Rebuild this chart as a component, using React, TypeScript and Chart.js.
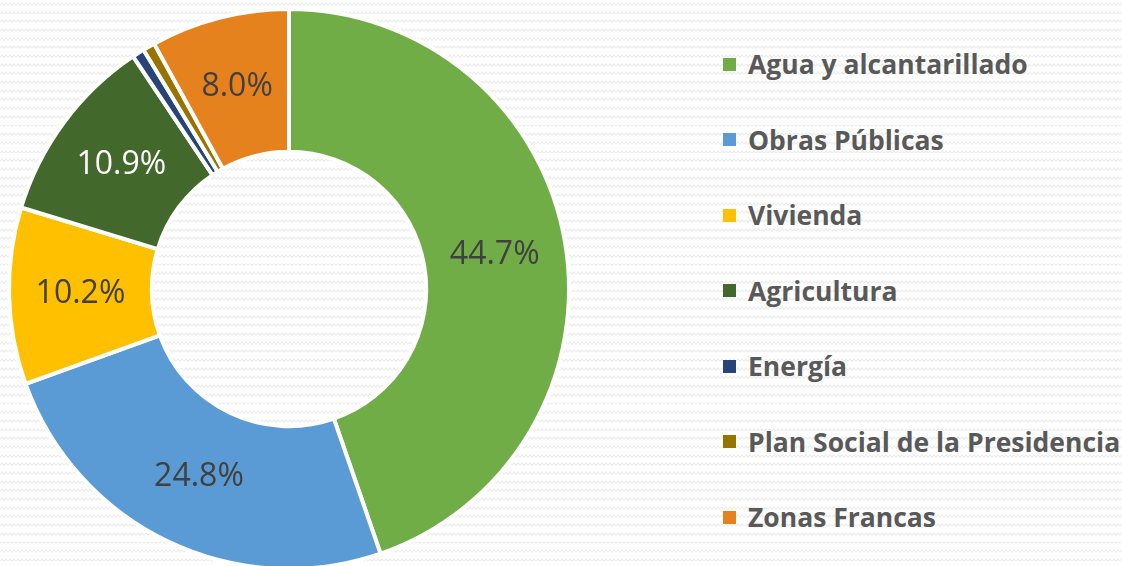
import React, { useEffect, useRef } from "react";
import { Chart, registerables } from "chart.js";

Chart.register(...registerables);

const categories = [
  "Agua y alcantarillado",
  "Obras Públicas",
  "Vivienda",
  "Agricultura",
  "Energía",
  "Plan Social de la Presidencia",
  "Zonas Francas",
];
const shares = [44.7, 24.8, 10.2, 10.9, 0.7, 0.7, 8.0];
const colors = ["#70AD47", "#5B9BD5", "#FFC000", "#43682B", "#264478", "#997300", "#E6821E"];
const labelColors = ["#404040", "#404040", "#404040", "#FFFFFF", "#404040", "#404040", "#404040"];
const minLabelShare = 5;

const bgSvg =
  "url(\"data:image/svg+xml;utf8,<svg xmlns='http://www.w3.org/2000/svg' width='8' height='8.7'><path d='M0 5 L2 3 L4 5 L6 3 L8 5' fill='none' stroke='%23ebebeb' stroke-width='1'/></svg>\")";

const labelPlugin = {
  id: "sliceLabels",
  afterDatasetsDraw(chart: any) {
    const ctx = chart.ctx;
    const meta = chart.getDatasetMeta(0);
    ctx.save();
    ctx.font = "32px 'Open Sans', sans-serif";
    ctx.textAlign = "center";
    ctx.textBaseline = "middle";
    meta.data.forEach((arc: any, i: number) => {
      const v = shares[i];
      if (v < minLabelShare) return;
      const p = arc.tooltipPosition();
      ctx.fillStyle = labelColors[i];
      ctx.fillText(v.toFixed(1) + "%", p.x, p.y);
    });
    ctx.restore();
  },
};

export default function App() {
  const ref = useRef<HTMLCanvasElement | null>(null);

  useEffect(() => {
    document.body.style.margin = "0";
    const chart = new Chart(ref.current as HTMLCanvasElement, {
      type: "doughnut",
      data: {
        labels: categories,
        datasets: [
          {
            data: shares,
            backgroundColor: colors,
            borderColor: "#FFFFFF",
            borderWidth: 4,
          },
        ],
      },
      options: {
        animation: false,
        responsive: false,
        cutout: "49%",
        layout: { padding: 7 },
        plugins: {
          legend: { display: false },
          tooltip: { enabled: false },
        },
      },
      plugins: [labelPlugin],
    });
    return () => chart.destroy();
  }, []);

  return (
    <div
      style={{
        position: "relative",
        width: 1122,
        height: 566,
        overflow: "hidden",
        backgroundColor: "#ffffff",
        backgroundImage: bgSvg,
      }}
    >
      <canvas
        ref={ref}
        width={578}
        height={578}
        style={{ position: "absolute", left: 0, top: 0, width: 578, height: 578 }}
      />
      <div
        style={{
          position: "absolute",
          left: 723,
          top: 49,
          display: "flex",
          flexDirection: "column",
          gap: 45.5,
          fontFamily: "'Open Sans', sans-serif",
          fontWeight: 700,
          fontSize: 26.5,
          color: "#595959",
          whiteSpace: "nowrap",
        }}
      >
        {categories.map((c, i) => (
          <div key={c} style={{ display: "flex", alignItems: "center", height: 30 }}>
            <span
              style={{
                display: "inline-block",
                width: 13,
                height: 13,
                background: colors[i],
                marginRight: 12,
              }}
            />
            <span style={{ lineHeight: "30px" }}>{c}</span>
          </div>
        ))}
      </div>
    </div>
  );
}
